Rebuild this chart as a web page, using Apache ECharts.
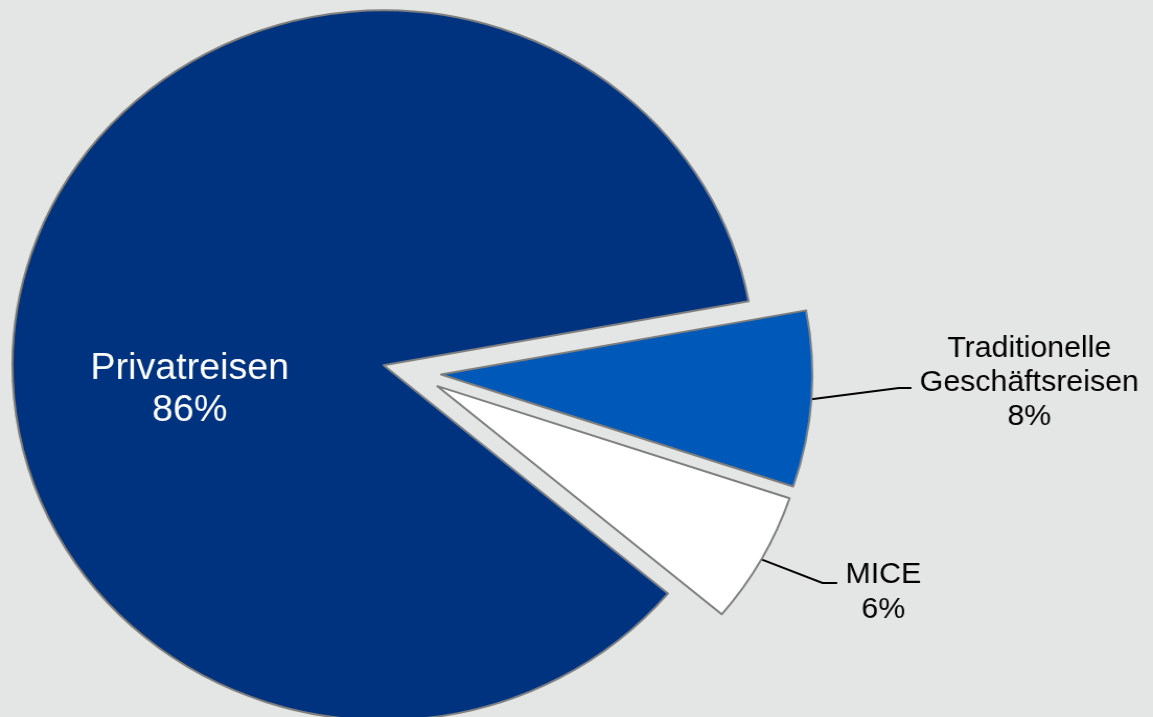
<!DOCTYPE html>
<html>
<head>
<meta charset="utf-8">
<script src="https://cdn.jsdelivr.net/npm/echarts@6/dist/echarts.min.js"></script>
<style>
  html, body { margin: 0; padding: 0; background: #e4e6e5; overflow: hidden; }
  /* the chart is drawn at 1103px and widened to the full 1153px page */
  #chart { width: 1103px; height: 717px; transform: scaleX(1.04533); transform-origin: 0 0; }
</style>
</head>
<body>
<div id="chart"></div>
<script>
// Segments of travel (share in percent)
const categories = ['Privatreisen', 'Traditionelle\nGeschäftsreisen', 'MICE'];
const shares = [86, 8, 6];

// Styling per segment
const sliceColors = ['#00337f', '#0058b9', '#ffffff'];
const labelColors = ['#ffffff', '#000000', '#000000'];
const labelSizes = [36, 29, 29];
const labelLineHeights = [42, 34, 35];
const labelPositions = ['inside', 'outside', 'outside'];
// padding moves the text block away from its anchor point: [top, right, bottom, left]
const labelPadding = [[141, 22, 0, 0], [0, 0, 44, 0], [0, 0, 0, 0]];
const leaderLength = [0, 84, 67];
const leaderLength2 = [0, 12, 14];
// vertical nudge of the bend and end of each leader line
const leaderNudge = [0, -17, -9];

const FONT = '"Liberation Sans", Arial, sans-serif';

const data = categories.map((name, i) => ({
  name: name,
  value: shares[i],
  selected: true,
  itemStyle: { color: sliceColors[i] },
  label: {
    position: labelPositions[i],
    padding: labelPadding[i],
    formatter: p => p.name.split('\n').concat(Math.round(p.percent) + '%')
      .map(s => '{t|' + s + '}').join('\n'),
    rich: {
      t: {
        align: 'center',
        color: labelColors[i],
        fontSize: labelSizes[i],
        lineHeight: labelLineHeights[i],
        fontFamily: FONT
      }
    }
  },
  labelLine: { show: labelPositions[i] === 'outside', length: leaderLength[i], length2: leaderLength2[i] }
}));

const chart = echarts.init(document.getElementById('chart'), null, { renderer: 'canvas' });

chart.setOption({
  backgroundColor: '#e4e6e5',
  animation: false,
  series: [{
    type: 'pie',
    center: [394, 372.5],
    radius: 355,
    startAngle: -40,
    clockwise: true,
    selectedMode: 'multiple',
    selectedOffset: 28,
    avoidLabelOverlap: false,
    emphasis: { disabled: true, scale: false },
    itemStyle: { borderColor: '#7f7f7f', borderWidth: 2 },
    select: { itemStyle: { borderColor: '#7f7f7f', borderWidth: 2 } },
    label: { distanceToLabelLine: 8 },
    labelLine: { lineStyle: { color: '#000000', width: 2 } },
    labelLayout: function (p) {
      const d = leaderNudge[p.dataIndex];
      if (!d || !p.labelLinePoints || !p.labelLinePoints.length) return {};
      return {
        labelLinePoints: p.labelLinePoints.map((q, k) => k === 0 ? [q[0], q[1]] : [q[0], q[1] + d])
      };
    },
    data: data
  }]
});
</script>
</body>
</html>
